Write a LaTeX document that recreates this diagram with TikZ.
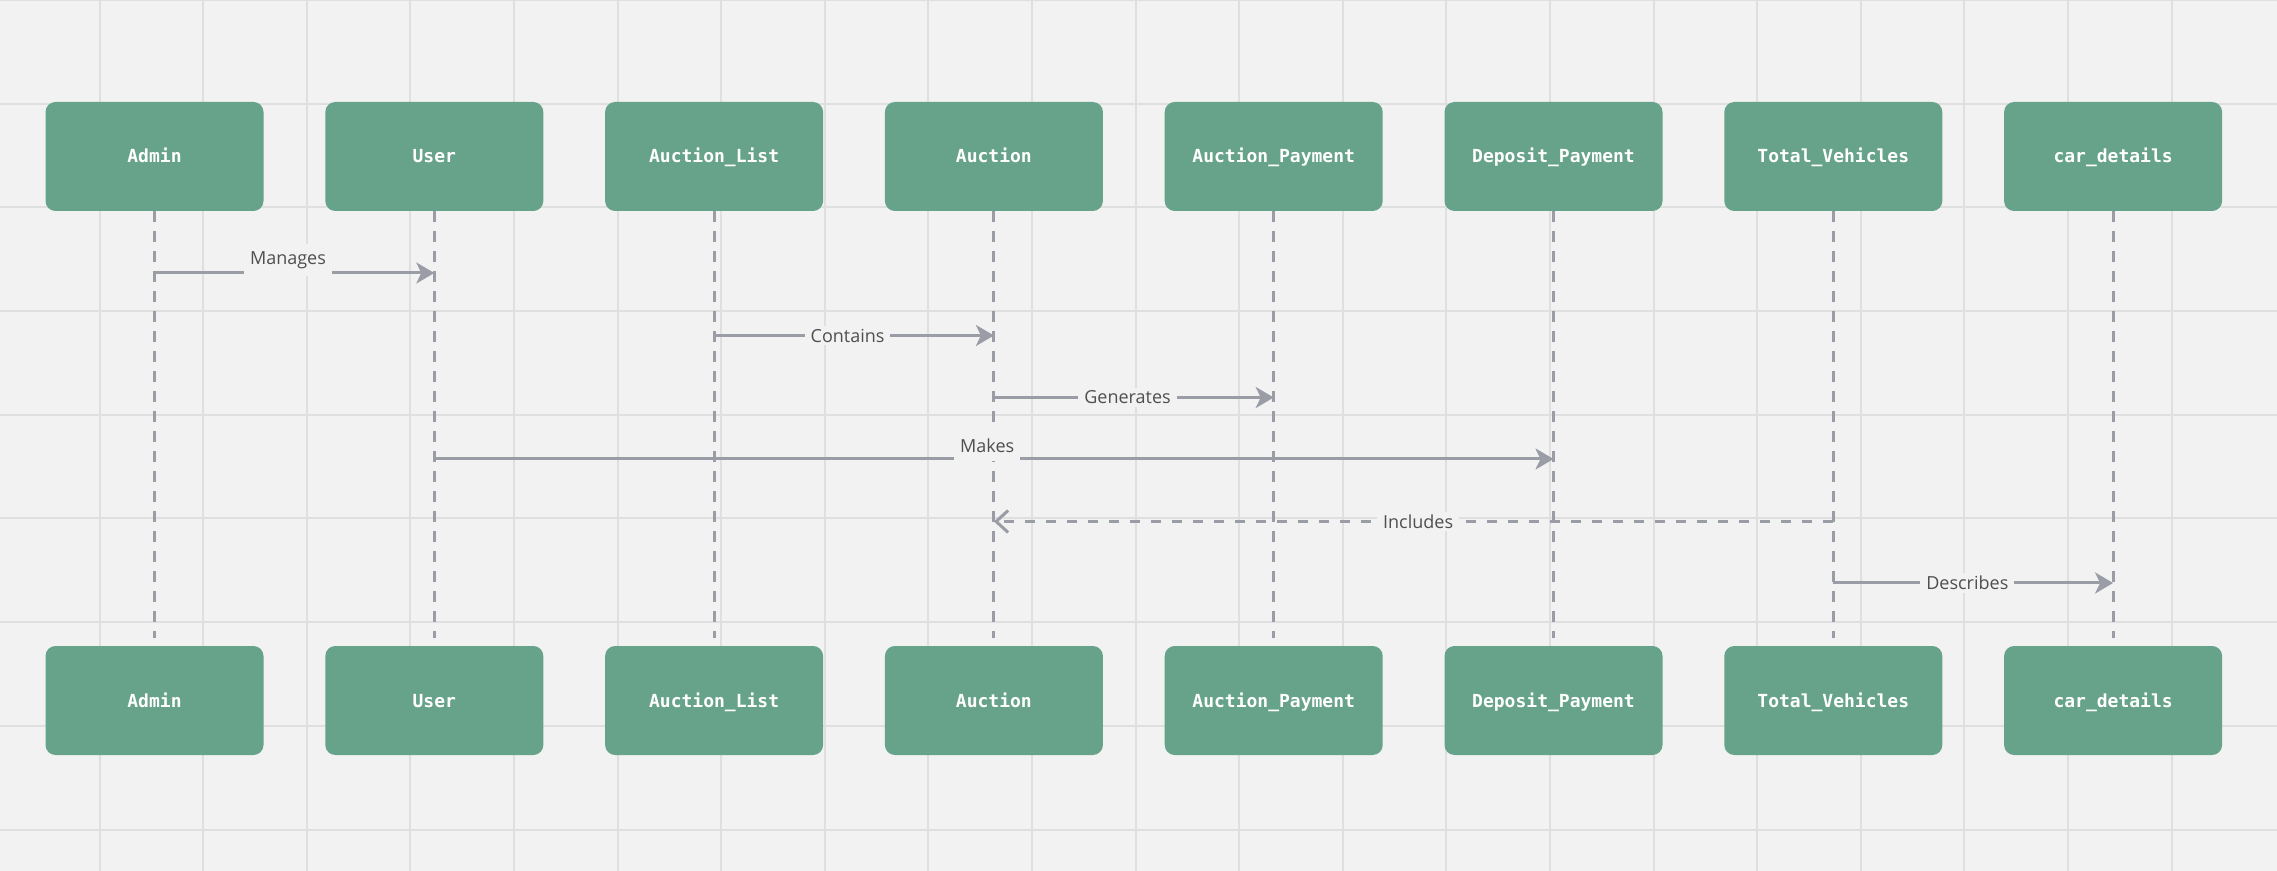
\documentclass[tikz,border=0pt]{standalone}
\usepackage{fontspec}
\setmainfont{Open Sans}
\newfontfamily\boxfont{DejaVu Sans Mono}
\usetikzlibrary{arrows.meta}
\definecolor{bgc}{HTML}{F2F2F2}
\definecolor{gridc}{HTML}{DFDFDF}
\definecolor{boxc}{HTML}{66A38A}
\definecolor{linec}{HTML}{9A9CA6}
\definecolor{labc}{HTML}{4F4F4F}
\begin{document}
\begin{tikzpicture}[x=0.5pt,y=-0.5pt,
  gridline/.style={draw=gridc, line width=1pt},
  actor/.style={rectangle, rounded corners=5pt, fill=boxc, minimum width=109pt, minimum height=54.5pt, inner sep=0pt, text height=7.5pt, text depth=1pt, text=white, font={\boxfont\bfseries\fontsize{9pt}{11pt}\selectfont}},
  lifeline/.style={draw=linec, line width=1.5pt, dash pattern=on 5.5pt off 4.5pt, shorten >=4pt},
  msg/.style={draw=linec, line width=1.5pt, -{Stealth[length=9pt,width=10.5pt,inset=2.5pt]}},
  ret/.style={draw=linec, line width=1.5pt, dash pattern=on 5pt off 5.5pt, -{Straight Barb[length=6pt,width=11pt]}},
  lab/.style={fill=bgc, text=labc, inner xsep=3pt, inner ysep=1.5pt, font={\fontsize{9pt}{11pt}\selectfont}},
  labup/.style={lab, yshift=6.5pt, inner ysep=3.8pt}
]
\useasboundingbox (0,0) rectangle (2277,871);
\fill[bgc] (0,0) rectangle (2277,871);
\foreach \k in {1,...,21} \draw[gridline] ({-4+103.6*\k},0) -- ({-4+103.6*\k},871);
\foreach \k in {0,...,8} \draw[gridline] (0,{103.7*\k}) -- (2277,{103.7*\k});

\foreach \i/\nm in {0/Admin,1/User,2/Auction\_List,3/Auction,4/Auction\_Payment,5/Deposit\_Payment,6/Total\_Vehicles,7/car\_details}{
  \node[actor] (t\i) at ({154.5+279.8*\i},156.5) {\nm};
  \node[actor] (b\i) at ({154.5+279.8*\i},700.5) {\nm};
  \draw[lifeline] (t\i.south) -- (b\i.north);
}

\coordinate (y1) at (0,273);
\coordinate (y2) at (0,335.5);
\coordinate (y3) at (0,397.5);
\coordinate (y4) at (0,459);
\coordinate (y5) at (0,521.5);
\coordinate (y6) at (0,583);

\draw[msg] (t0 |- y1) -- node[labup, pos=0.477] {Manages} (t1 |- y1);
\draw[msg] (t2 |- y2) -- node[lab, pos=0.477] {Contains} (t3 |- y2);
\draw[msg] (t3 |- y3) -- node[lab, pos=0.4775] {Generates} (t4 |- y3);
\draw[msg] (t1 |- y4) -- node[labup, pos=0.494] {Makes} (t5 |- y4);
\draw[ret] (t6 |- y5) -- node[lab, pos=0.4946] {Includes} (t3 |- y5);
\draw[msg] (t6 |- y6) -- node[lab, pos=0.479] {Describes} (t7 |- y6);
\end{tikzpicture}
\end{document}
